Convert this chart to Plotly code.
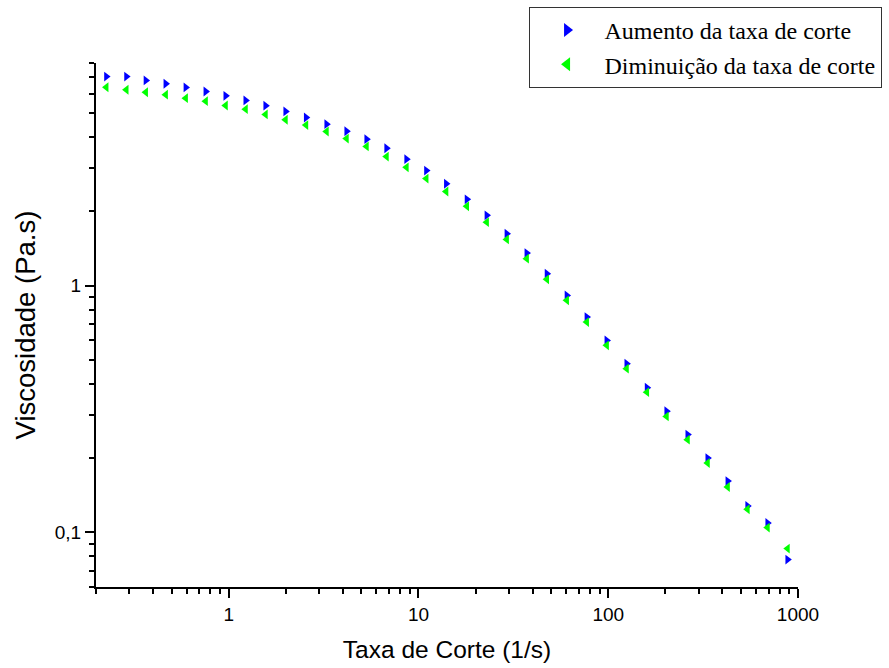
import plotly.graph_objects as go

# Shear rate (1/s)
taxa = [0.2266, 0.289, 0.366, 0.466, 0.594, 0.757, 0.964, 1.229, 1.565, 1.995,
        2.557, 3.28, 4.18, 5.33, 6.79, 8.65, 11.0, 14.0, 18.0, 22.9,
        29.2, 37.2, 47.5, 60.5, 77.1, 98.2, 125, 160, 203, 262,
        334, 426, 542, 691, 881]

# Viscosity (Pa.s) - increasing shear rate
aumento = [7.05, 7.05, 6.80, 6.59, 6.37, 6.13, 5.89, 5.64, 5.37, 5.09,
           4.81, 4.52, 4.23, 3.93, 3.61, 3.26, 2.93, 2.59, 2.24, 1.93,
           1.625, 1.356, 1.118, 0.913, 0.746, 0.600, 0.483, 0.386, 0.310, 0.249,
           0.200, 0.1614, 0.1278, 0.1091, 0.0775]

# Viscosity (Pa.s) - decreasing shear rate
diminuicao = [6.38, 6.23, 6.09, 5.95, 5.76, 5.60, 5.38, 5.20, 4.95, 4.71,
              4.48, 4.22, 3.95, 3.67, 3.34, 3.02, 2.72, 2.41, 2.10, 1.81,
              1.541, 1.287, 1.061, 0.872, 0.712, 0.573, 0.461, 0.370, 0.295, 0.2375,
              0.191, 0.1527, 0.1240, 0.1045, 0.0859]

x_tickvals = [1, 10, 100, 1000]
x_ticktext = ["1", "10", "100", "1000"]
y_tickvals = [0.1, 1]
y_ticktext = ["0,1", "1"]

x_minor = [m * 10 ** e for e in range(-1, 3) for m in range(2, 10)]
y_minor = [m * 10 ** e for e in range(-2, 1) for m in range(2, 10)]

fig = go.Figure()
fig.add_trace(go.Scatter(
    x=taxa, y=aumento, mode="markers", name="Aumento da taxa de corte",
    marker=dict(symbol="triangle-right", size=8.5, color="#0000FF", line=dict(width=0)),
))
fig.add_trace(go.Scatter(
    x=taxa, y=diminuicao, mode="markers", name="Diminuição da taxa de corte",
    marker=dict(symbol="triangle-left", size=8.5, color="#00FF00", line=dict(width=0)),
))

axis_font = dict(family="Liberation Sans, Arial", size=19, color="black")

fig.update_layout(
    width=889, height=668,
    margin=dict(l=96, r=90.5, t=62.5, b=81.3, autoexpand=False),
    paper_bgcolor="white", plot_bgcolor="white",
    showlegend=True,
    legend=dict(
        x=1.119, y=1.107, xanchor="right", yanchor="top",
        bgcolor="white", bordercolor="#333333", borderwidth=1,
        font=dict(family="Liberation Serif, Times New Roman", size=24, color="black"),
        itemsizing="constant", itemwidth=65, tracegroupgap=0,
    ),
    xaxis=dict(
        type="log", range=[-0.699, 3.0],
        showline=True, linecolor="black", linewidth=2,
        showgrid=False, zeroline=False,
        ticks="outside", ticklen=9, tickwidth=2, tickcolor="black",
        tickmode="array", tickvals=x_tickvals, ticktext=x_ticktext,
        tickfont=axis_font,
        minor=dict(ticks="outside", ticklen=5, tickwidth=2, tickcolor="black",
                   tickmode="array", tickvals=x_minor, showgrid=False),
        title=dict(text="Taxa de Corte (1/s)", font=dict(family="Liberation Sans, Arial", size=24.5, color="black"), standoff=17),
    ),
    yaxis=dict(
        type="log", range=[-1.2218, 0.9031],
        showline=True, linecolor="black", linewidth=2,
        showgrid=False, zeroline=False,
        ticks="outside", ticklen=9, tickwidth=2, tickcolor="black",
        tickmode="array", tickvals=y_tickvals, ticktext=y_ticktext,
        tickfont=axis_font,
        minor=dict(ticks="outside", ticklen=5, tickwidth=2, tickcolor="black",
                   tickmode="array", tickvals=y_minor, showgrid=False),
        title=dict(text="Viscosidade (Pa.s)", font=dict(family="Liberation Sans, Arial", size=27.5, color="black"), standoff=11),
    ),
)

fig.write_html("out.html")
